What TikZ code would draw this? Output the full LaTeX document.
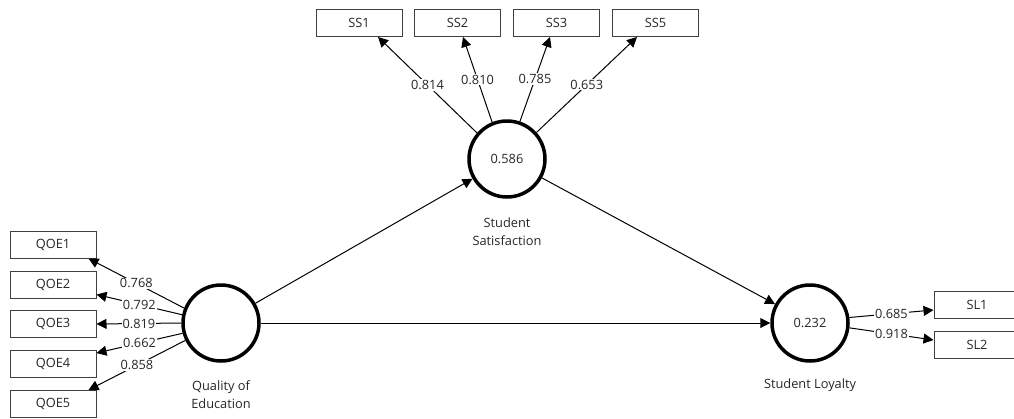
\documentclass[tikz,border=0pt]{standalone}
\usepackage{fontspec}
\setmainfont{Open Sans}
\usetikzlibrary{arrows.meta}

\begin{document}
\begin{tikzpicture}[x=1pt, y=-1pt,
	txt/.style={font=\fontsize{12.8}{18}\selectfont, text=black!85},
	ind/.style={txt, draw=black!75, line width=1pt, minimum width=86pt, minimum height=27pt, inner sep=0pt},
	lat/.style={txt, circle, draw, line width=3.5pt, minimum size=76pt, inner sep=0pt},
	latname/.style={txt, align=center},
	load/.style={line width=1pt, -{Triangle[length=10pt, width=10pt]}},
	path/.style={line width=1pt, -{Triangle[length=10pt, width=10pt]}},
	val/.style={txt, fill=white, inner sep=1pt}]
			\useasboundingbox (0,0) rectangle (1014,418);
			\node[ind] (qoe1) at (53,244.5) {QOE1};
			\node[ind] (qoe2) at (53,284.5) {QOE2};
			\node[ind] (qoe3) at (53,324) {QOE3};
			\node[ind] (qoe4) at (53,364) {QOE4};
			\node[ind] (qoe5) at (53,404) {QOE5};
			\node[ind] (ss1) at (359,23) {SS1};
			\node[ind] (ss2) at (457.5,23) {SS2};
			\node[ind] (ss3) at (556.5,23) {SS3};
			\node[ind] (ss5) at (655.5,23) {SS5};
			\node[ind] (sl1) at (977,304.5) {SL1};
			\node[ind] (sl2) at (977,344.5) {SL2};
			\node[lat] (qoe) at (221,323) {};
			\node[lat] (ss) at (507,159) {0.586};
			\node[lat] (sl) at (810,323) {0.232};
			\node[latname] (qoename) at (221,394.5) {Quality of\\Education};
			\node[latname] (ssname) at (507,232) {Student\\Satisfaction};
			\node[latname] (slname) at (810,385) {Student Loyalty};
			\draw[path] (qoe) -- (ss);
			\draw[path] (qoe) -- (sl);
			\draw[path] (ss) -- (sl);
			\draw[load] (qoe.158) -- node[val] {0.768} ([xshift=-8pt]qoe1.south east);
			\draw[load] (qoe.168) -- node[val] {0.792} ([yshift=-10pt]qoe2.east);
			\draw[load] (qoe.180) -- node[val] {0.819} (qoe3.east);
			\draw[load] (qoe.195) -- node[val] {0.662} ([yshift=-3pt]qoe4.north east);
			\draw[load] (qoe.206) -- node[val] {0.858} ([xshift=-8pt]qoe5.north east);
			\draw[load] (ss.139) -- node[val] {0.814} ([xshift=19pt]ss1.south);
			\draw[load] (ss.112) -- node[val] {0.810} ([xshift=5.5pt]ss2.south);
			\draw[load] (ss.71) -- node[val] {0.785} ([xshift=-6.5pt]ss3.south);
			\draw[load] (ss.42) -- node[val] {0.653} ([xshift=-18.5pt]ss5.south);
			\draw[load] (sl.8) -- node[val] {0.685} ([yshift=-5.5pt]sl1.west);
			\draw[load] (sl.-7) -- node[val] {0.918} ([yshift=4.5pt]sl2.west);
			\end{tikzpicture}
\end{document}
